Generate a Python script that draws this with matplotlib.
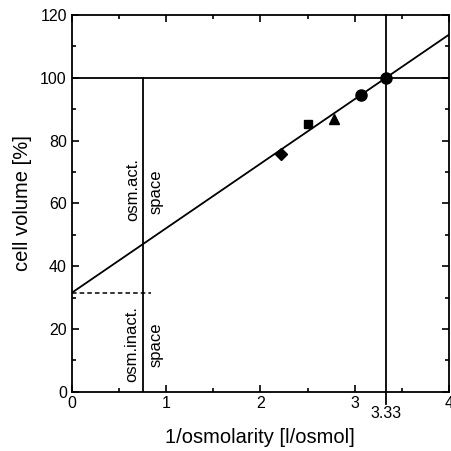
import numpy as np
import matplotlib
matplotlib.use("Agg")
import matplotlib.pyplot as plt

plt.rcParams["font.family"] = ["Liberation Sans", "DejaVu Sans"]

# measured points (1/osmolarity, cell volume)
inv_osm = [2.22, 2.50, 2.78, 3.07, 3.33]
volume = [75.8, 85.4, 87.0, 94.7, 100.0]
markers = ["D", "s", "^", "o", "o"]
sizes = [6, 6, 7, 8, 8]

# regression line
intercept = 31.5
x_iso = 3.33
x_inact = 0.76
slope = (100 - intercept) / x_iso

fig = plt.figure(figsize=(4.51, 4.51), dpi=100)
ax = fig.add_axes([0.159, 0.1315, 0.8366, 0.835])

xs = np.array([0, 4])
ax.plot(xs, intercept + slope * xs, color="black", lw=1.3)
for x, y, m, s in zip(inv_osm, volume, markers, sizes):
	ax.plot(x, y, marker=m, color="black", ms=s, ls="none")

ax.axhline(100, color="black", lw=1.3)
ax.plot([x_iso, x_iso], [-4, 120], color="black", lw=1.3, clip_on=False)
ax.plot([x_inact, x_inact], [0, 100], color="black", lw=1.3)
ax.plot([0, x_inact + 0.08], [intercept, intercept], color="black", lw=1.1, ls=(0, (3, 2)))

ax.text(0.65, 64.5, "osm.act.", rotation=90, ha="center", va="center", fontsize=12)
ax.text(0.89, 63.8, "space", rotation=90, ha="center", va="center", fontsize=12)
ax.text(0.64, 15.3, "osm.inact.", rotation=90, ha="center", va="center", fontsize=12)
ax.text(0.89, 15.1, "space", rotation=90, ha="center", va="center", fontsize=12)
ax.text(x_iso, -4.5, "3.33", ha="center", va="top", fontsize=11.5)

ax.set_xlim(0, 4)
ax.set_ylim(0, 120)
ax.set_xticks([0, 1, 2, 3, 4])
ax.set_xticks([0.5, 1.5, 2.5, 3.5], minor=True)
ax.set_yticks(range(0, 121, 20))
ax.set_yticks(range(10, 120, 20), minor=True)
ax.tick_params(which="both", direction="in", top=True, right=True, labelsize=11.5, width=1.2)
ax.tick_params(which="major", length=5)
ax.tick_params(which="minor", length=3)
ax.tick_params(axis="x", pad=3)
for sp in ax.spines.values():
	sp.set_linewidth(1.3)

ax.set_xlabel("1/osmolarity [l/osmol]", fontsize=14.5, labelpad=12)
ax.set_ylabel("cell volume [%]", fontsize=14.5, labelpad=6)

fig.savefig("out.png", dpi=100)
